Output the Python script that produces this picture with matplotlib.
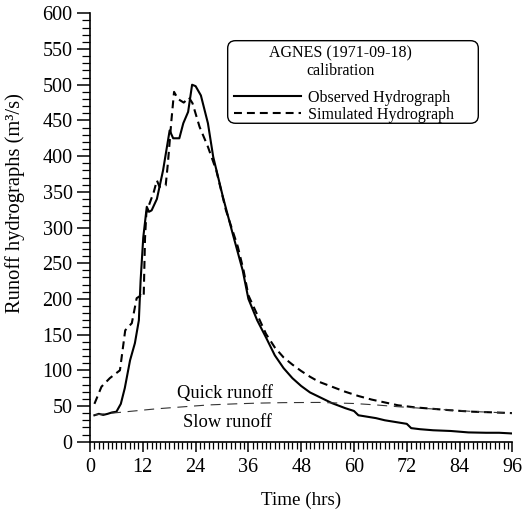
import matplotlib
matplotlib.use("Agg")
import matplotlib.pyplot as plt
from matplotlib.patches import FancyBboxPatch
from matplotlib.ticker import MultipleLocator

# observed hydrograph (hrs, m3/s)
obs_t = [1, 2, 3, 4, 5, 6, 7, 7.9, 9.1, 10.2, 11.1, 11.5, 12.1, 12.9, 13.4, 14.0,
         15.2, 16.6, 18.1, 18.9, 20.3, 21.2, 22.3, 23.2, 24.0, 25.2, 26.8, 28.0,
         30.2, 32.4, 34.7, 36, 38, 40, 42, 44, 46, 48, 50, 52, 55, 58, 60, 61,
         63, 65, 67, 70, 72, 73, 75, 78, 82, 86, 90, 93, 96]
obs_q = [37, 39, 37.5, 39, 41, 42, 53, 75, 114, 138, 170, 226, 286, 329, 322, 324,
         340, 380, 436, 425, 425, 446, 462, 500, 498, 485, 446, 399,
         343, 292, 240, 200, 170, 146, 121, 103, 89, 78, 69, 63, 54, 47, 43, 37,
         35, 33, 30, 27, 25, 19, 17.5, 16, 15, 13, 12.5, 12.5, 11.5]

# simulated hydrograph
sim_t = [1, 2.6, 4.5, 6.8, 8.0, 9.5, 10.6, 11.6, 12.2, 12.5, 12.8, 13.5, 14.5,
         15.2, 15.8, 17.2, 17.7, 18.5, 19.1, 20.0, 21.3, 22.5, 23.3, 24.9, 26.8,
         28.7, 30.9, 33.6, 34.9, 36, 38, 40, 42, 44, 46, 48, 50, 52, 55, 58, 61,
         64, 67, 70, 74, 78, 82, 87, 92, 96]
sim_q = [53, 77, 89, 100, 156, 166, 201, 205, 203, 285, 320, 333, 350,
         366, 357, 359, 390, 450, 490, 480, 475, 482, 474, 441, 413,
         380, 324, 273, 240, 205, 178, 151, 132, 118, 108, 99, 91, 84, 77, 70, 64,
         59, 55, 51, 48, 46, 44, 42, 41, 40]

# quick / slow runoff separation line
base_t = [1, 5, 10, 15, 21.5, 27, 33, 38, 44, 52, 60, 65, 70, 75, 80, 88, 96]
base_q = [37.5, 40, 43, 46, 49, 51.5, 53, 54, 54.7, 55, 53.5, 51.5, 49, 47, 45, 42, 40]

plt.rcParams['font.family'] = ['Liberation Serif', 'DejaVu Serif']

fig = plt.figure(figsize=(5.24, 5.13), dpi=100)
ax = fig.add_axes([0.1718, 0.139, 0.806, 0.835])

ax.plot(obs_t, obs_q, color='black', lw=1.5, label='Observed Hydrograph')
ax.plot(sim_t, sim_q, color='black', lw=1.5, linestyle=(0, (3.8, 2.4)),
        label='Simulated Hydrograph')
ax.plot(base_t, base_q, color='#333333', lw=0.8, linestyle=(0, (9, 6)))

ax.text(30.7, 68, 'Quick runoff', fontsize=13.3, ha='center', va='center')
ax.text(31.3, 27, 'Slow runoff', fontsize=13.3, ha='center', va='center')

ax.set_xlim(0, 96)
ax.set_ylim(0, 600)
ax.xaxis.set_major_locator(MultipleLocator(12))
ax.xaxis.set_minor_locator(MultipleLocator(1))
ax.yaxis.set_major_locator(MultipleLocator(50))
ax.yaxis.set_minor_locator(MultipleLocator(10))
ax.tick_params(axis='y', which='major', length=9.5, width=1.1, labelsize=14.5, pad=3)
ax.tick_params(axis='y', which='minor', length=6, width=0.9)
ax.tick_params(axis='x', which='major', length=7.5, width=1.1, labelsize=14.5, pad=4)
ax.tick_params(axis='x', which='minor', length=5, width=0.9)
for side in ["top", "right"]:
    ax.spines[side].set_visible(False)
for side in ["left", "bottom"]:
    ax.spines[side].set_linewidth(1.2)

ax.set_xlabel('Time (hrs)', fontsize=13.7, labelpad=11)
ax.set_ylabel('Runoff hydrographs (m³/s)', fontsize=14.8)
ax.yaxis.set_label_coords(-0.154, 0.557)

# legend box with two-line title
box = FancyBboxPatch((0.4345 + 0.015, 0.7597 + 0.015), 0.4783 - 0.03, 0.161 - 0.03,
                     boxstyle='round,pad=0.015', transform=fig.transFigure,
                     facecolor='white', edgecolor='black', lw=1.0, zorder=5,
                     clip_on=False)
ax.add_patch(box)
ax.text(0.650, 0.896, 'AGNES (1971-09-18)', fontsize=11.5, ha='center', va='center',
        transform=fig.transFigure, zorder=6)
ax.text(0.650, 0.8616, 'calibration', fontsize=11.5, ha='center', va='center',
        transform=fig.transFigure, zorder=6)
leg = ax.legend(loc='upper left', bbox_to_anchor=(234 / 524, 1 - 90 / 513),
                bbox_transform=fig.transFigure, fontsize=11.5, handlelength=4.2,
                handletextpad=0.42, frameon=False, borderpad=0, labelspacing=0.05,
                borderaxespad=0)
leg.set_zorder(7)

fig.savefig('out.png', dpi=100, facecolor='white')
